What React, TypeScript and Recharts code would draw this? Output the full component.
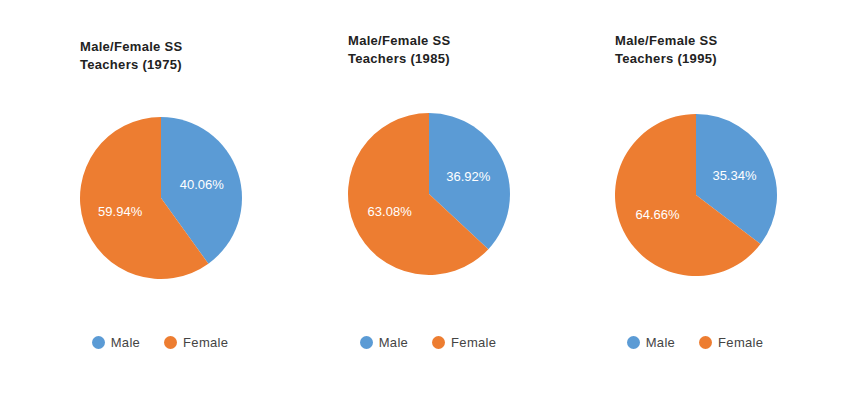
import { Legend, Pie, PieChart, Cell } from "recharts";

const years = ["1975", "1985", "1995"];
const categories = ["Male", "Female"];
const maleShare = [40.06, 36.92, 35.34];
const femaleShare = [59.94, 63.08, 64.66];
const colors = ["#5b9bd5", "#ed7d31"];

// per-panel placement tweaks (reference panels are not perfectly aligned)
const panelTop = [6, 0, 0];
const pieCy = [198, 194, 195];

const RADIAN = Math.PI / 180;
const font = "'Liberation Sans', Arial, sans-serif";

const renderLabel = (props: any) => {
  const { cx, cy, midAngle, outerRadius, value } = props;
  const r = outerRadius * 0.53;
  const x = cx + r * Math.cos(-midAngle * RADIAN);
  const y = cy + r * Math.sin(-midAngle * RADIAN);
  return (
    <text
      x={x}
      y={y}
      fill="#ffffff"
      textAnchor="middle"
      dominantBaseline="central"
      fontFamily={font}
      fontSize={13}
    >
      {`${Number(value).toFixed(2)}%`}
    </text>
  );
};

const LegendContent = () => (
  <div
    style={{
      display: "flex",
      justifyContent: "center",
      alignItems: "center",
      gap: 24,
      fontFamily: font,
      fontSize: 13,
      color: "#444",
      letterSpacing: 0.3,
    }}
  >
    {categories.map((c, i) => (
      <div key={c} style={{ display: "flex", alignItems: "center", gap: 6 }}>
        <span
          style={{
            width: 13,
            height: 13,
            borderRadius: "50%",
            background: colors[i],
            display: "inline-block",
          }}
        />
        <span>{c}</span>
      </div>
    ))}
  </div>
);

export default function App() {
  return (
    <div
      style={{
        position: "absolute",
        left: 0,
        top: 0,
        width: 847,
        height: 398,
        background: "#fff",
      }}
    >
      {years.map((year, i) => {
        const data = categories.map((name, k) => ({
          name,
          value: k === 0 ? maleShare[i] : femaleShare[i],
        }));
        return (
          <div
            key={year}
            style={{ position: "absolute", left: i * 268 - (i === 2 ? 1 : 0), top: 0, width: 268, height: 398 }}
          >
            <div
              style={{
                position: "absolute",
                left: 80,
                top: 32 + panelTop[i],
                fontFamily: font,
                fontWeight: "bold",
                fontSize: 13,
                lineHeight: "18px",
                letterSpacing: 0.3,
                color: "#222",
              }}
            >
              Male/Female SS
              <br />
              Teachers ({year})
            </div>
            <PieChart width={268} height={398} margin={{ top: 0, right: 0, bottom: 0, left: 0 }}>
              <Pie
                data={data}
                dataKey="value"
                nameKey="name"
                cx={161}
                cy={pieCy[i]}
                outerRadius={81}
                startAngle={90}
                endAngle={-270}
                stroke="none"
                labelLine={false}
                label={renderLabel}
                isAnimationActive={false}
              >
                {data.map((d, k) => (
                  <Cell key={d.name} fill={colors[k]} />
                ))}
              </Pie>
              <Legend
                content={<LegendContent />}
                wrapperStyle={{ top: 335, left: 26, width: 268, bottom: "auto" }}
              />
            </PieChart>
          </div>
        );
      })}
    </div>
  );
}
